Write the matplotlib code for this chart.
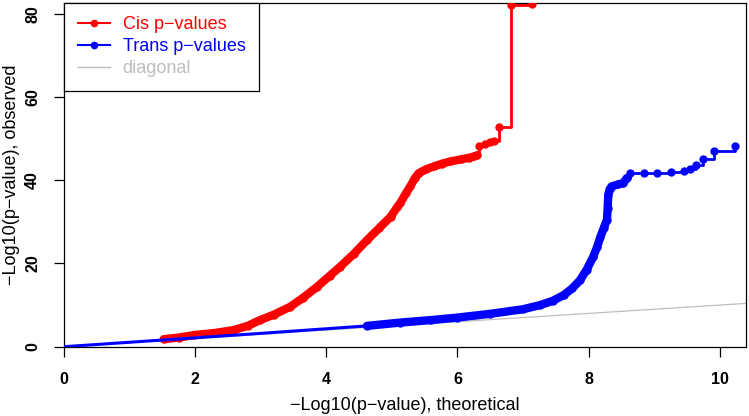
import matplotlib
matplotlib.use("Agg")
import matplotlib.pyplot as plt
import numpy as np
from matplotlib.lines import Line2D

plt.rcParams['font.family'] = ['Liberation Sans', 'DejaVu Sans']

# QQ points: -log10 p, expected (x) vs observed (y)
cis_x = [1.52, 1.75, 1.98, 2.30, 2.59, 2.80, 2.99, 3.20, 3.45, 3.65, 3.86, 4.05,
         4.21, 4.42, 4.62, 4.80, 4.98, 5.08, 5.13, 5.22, 5.28, 5.35, 5.41, 5.52,
         5.64, 5.77, 5.89, 6.05, 6.18, 6.25, 6.30, 6.33, 6.42, 6.50, 6.55, 6.64,
         6.82, 7.14]
cis_y = [1.8, 2.2, 2.8, 3.3, 4.0, 5.0, 6.4, 7.7, 9.6, 11.8, 14.4, 17.0,
         19.2, 22.3, 25.6, 28.4, 31.2, 33.5, 34.6, 37.0, 38.5, 40.5, 41.7, 42.6,
         43.3, 44.0, 44.5, 45.0, 45.4, 45.7, 46.0, 48.2, 48.6, 49.3, 49.5, 52.7,
         82.1, 82.3]

trans_x = [0.0, 1.5, 3.0, 4.62, 5.13, 5.60, 6.00, 6.50, 7.00, 7.26, 7.45, 7.62,
           7.75, 7.87, 7.97, 8.07, 8.13, 8.18, 8.23, 8.28, 8.29, 8.30, 8.32, 8.35,
           8.45, 8.53, 8.58, 8.63, 8.85, 9.04, 9.25, 9.45, 9.55, 9.63, 9.75, 9.91,
           10.23]
trans_y = [0.0, 1.6, 3.2, 5.0, 5.8, 6.4, 7.0, 7.9, 9.0, 10.0, 11.0, 12.4,
           14.0, 16.0, 18.5, 21.6, 24.0, 26.4, 28.5, 30.5, 33.3, 36.5, 37.8, 38.5,
           39.0, 39.3, 40.5, 41.7, 41.7, 41.8, 41.9, 42.1, 42.8, 43.7, 45.0, 47.1,
           48.2]

labels = ["Cis p\u2212values", "Trans p\u2212values", "diagonal"]
x_ticks = [0, 2, 4, 6, 8, 10]
y_ticks = [0, 20, 40, 60, 80]

RED = "#FF0000"
BLUE = "#0000FF"
GREY = "#BEBEBE"

fig = plt.figure(figsize=(7.49, 4.16), dpi=100)
ax = fig.add_axes([64 / 749, (416 - 346.7) / 416, (746 - 64) / 749, (346.7 - 2.5) / 416])

xmax, ymax = 10.40, 82.7
ax.plot([0, xmax], [0, xmax], color=GREY, lw=0.9, zorder=1)

cx, cy = np.array(cis_x), np.array(cis_y)
tx, ty = np.array(trans_x), np.array(trans_y)


def qq_curve(x, y, color, dense_lo, dense_hi, z):
    # dense stretch: overlapping dots read as one thick band
    d = (x >= dense_lo) & (x <= dense_hi)
    ax.plot(x[d], y[d], color=color, lw=6.0, solid_capstyle="round", zorder=z)
    # below the dense stretch: plain thin line, no dots
    lo = x <= dense_lo
    ax.plot(x[lo], y[lo], color=color, lw=2.2, zorder=z)
    # sparse tail: step line with dots
    i = np.where(d)[0][-1]
    ax.plot(x[i:], y[i:], color=color, lw=2.0, drawstyle="steps-post", zorder=z)
    m = x >= dense_lo
    ax.plot(x[m], y[m], "o", color=color, ms=6.0, mew=0, zorder=z + 1)


qq_curve(cx, cy, RED, 1.52, 6.30, 2)
qq_curve(tx, ty, BLUE, 4.62, 8.60, 4)

ax.set_xlim(0, xmax)
ax.set_ylim(0, ymax)
ax.set_xticks(x_ticks)
ax.set_yticks(y_ticks)
ax.set_xticklabels([str(v) for v in x_ticks], fontsize=11.5, fontweight="bold")
ax.set_yticklabels([str(v) for v in y_ticks], fontsize=11.5, fontweight="bold",
                   rotation=90, va="center")
ax.tick_params(axis="x", length=7.2, width=0.9, pad=11)
ax.tick_params(axis="y", length=7.2, width=0.9, pad=10)
for s in ax.spines.values():
    s.set_linewidth(0.9)

ax.set_xlabel("\u2212Log10(p\u2212value), theoretical", fontsize=13, labelpad=7)
ax.set_ylabel("\u2212Log10(p\u2212value), observed", fontsize=13, labelpad=4)

handles = [Line2D([], [], color=RED, lw=1.5, marker="o", ms=5.5, mew=0),
           Line2D([], [], color=BLUE, lw=1.5, marker="o", ms=5.5, mew=0),
           Line2D([], [], color=GREY, lw=1.0)]
leg = ax.legend(handles, labels, loc="upper left", bbox_to_anchor=(0, 1),
                borderaxespad=0, fontsize=13, fancybox=False, framealpha=1,
                edgecolor="black", handlelength=1.8, handletextpad=0.7,
                labelspacing=0.28, borderpad=0.75, labelcolor="linecolor")
leg.get_frame().set_linewidth(0.9)
leg.set_zorder(10)

fig.savefig("out.png", dpi=100)
